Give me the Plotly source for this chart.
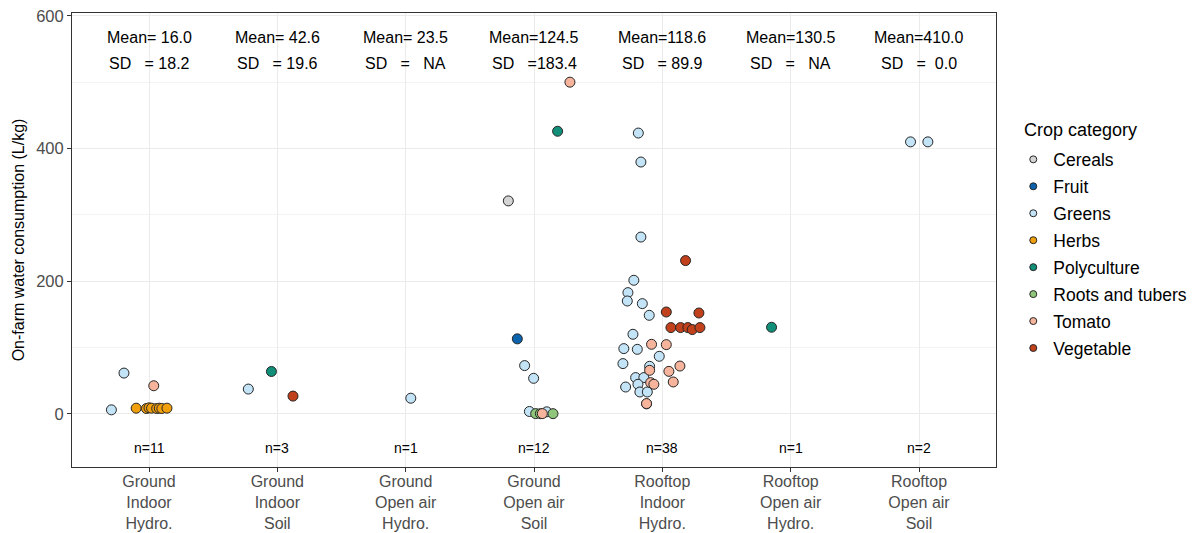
import plotly.graph_objects as go

# ---------------- data ----------------
systems = ["Ground<br>Indoor<br>Hydro.", "Ground<br>Indoor<br>Soil", "Ground<br>Open air<br>Hydro.",
           "Ground<br>Open air<br>Soil", "Rooftop<br>Indoor<br>Hydro.", "Rooftop<br>Open air<br>Hydro.",
           "Rooftop<br>Open air<br>Soil"]
crop_categories = ["Cereals", "Fruit", "Greens", "Herbs", "Polyculture", "Roots and tubers", "Tomato", "Vegetable"]
crop_colors = ["#d4d4d4", "#0b63ad", "#c3e3f6", "#f29f0c", "#128f78", "#8fc67c", "#f6b49c", "#c0411b"]

means = [16.0, 42.6, 23.5, 124.5, 118.6, 130.5, 410.0]
sds = ["18.2", "19.6", "NA", "183.4", "89.9", "NA", "0.0"]
counts = [11, 3, 1, 12, 38, 1, 2]

cereals_sys = [4]
cereals_jit = [-0.20]
cereals_val = [321]

fruit_sys = [4]
fruit_jit = [-0.13]
fruit_val = [113]

greens_sys = [1, 1, 2, 3, 4, 4, 4, 4,
              5, 5, 5, 5, 5, 5, 5, 5, 5, 5, 5, 5, 5, 5, 5, 5, 5, 5, 5, 5, 5,
              7, 7]
greens_jit = [-0.195, -0.293, -0.226, 0.04, -0.073, -0.003, -0.036, 0.099,
              -0.187, -0.167, -0.167, -0.222, -0.268, -0.273, -0.156, -0.102, -0.229, -0.300,
              -0.195, -0.024, -0.307, -0.099, -0.208, -0.144, -0.286, -0.190, -0.175, -0.117, -0.123,
              -0.066, 0.069]
greens_val = [61.4, 6.0, 37.3, 23.5, 72.7, 53.5, 3.5, 3.0,
              423.3, 379.6, 266.5, 201.3, 182.7, 170.1, 166.1, 148.5, 119.9, 98.3,
              97.2, 86.7, 75.7, 71.6, 54.6, 54.6, 40.4, 44.5, 32.9, 32.9, 15.0,
              410.0, 410.0]

herbs_sys = [1, 1, 1, 1, 1, 1, 1, 1]
herbs_jit = [-0.10, -0.02, 0.0, 0.02, 0.06, 0.08, 0.10, 0.14]
herbs_val = [8.5, 8.0, 9.0, 8.5, 8.0, 8.5, 8.0, 8.5]

poly_sys = [2, 4, 6]
poly_jit = [-0.046, 0.184, -0.149]
poly_val = [63.8, 426.0, 130.5]

roots_sys = [4, 4, 4]
roots_jit = [0.013, 0.148, 0.05]
roots_val = [0.3, 0.2, 0.2]

tomato_sys = [1, 4, 4, 5, 5, 5, 5, 5, 5, 5, 5, 5]
tomato_jit = [0.037, 0.28, 0.065, -0.084, 0.031, -0.099, 0.137, 0.051, -0.091, -0.066, 0.085, -0.123]
tomato_val = [42.3, 500.0, 0.3, 104.8, 104.3, 65.6, 72.0, 64.0, 47.0, 44.5, 48.0, 15.4]

veg_sys = [2, 5, 5, 5, 5, 5, 5, 5, 5]
veg_jit = [0.122, 0.181, 0.031, 0.285, 0.067, 0.142, 0.199, 0.233, 0.293]
veg_val = [26.7, 231.0, 153.5, 152.0, 130.0, 130.0, 130.0, 127.0, 130.0]

series = [
    (cereals_sys, cereals_jit, cereals_val),
    (fruit_sys, fruit_jit, fruit_val),
    (greens_sys, greens_jit, greens_val),
    (herbs_sys, herbs_jit, herbs_val),
    (poly_sys, poly_jit, poly_val),
    (roots_sys, roots_jit, roots_val),
    (tomato_sys, tomato_jit, tomato_val),
    (veg_sys, veg_jit, veg_val),
]

FONT = "Liberation Sans, Arial, sans-serif"
NB = "\u00a0"

fig = go.Figure()
for name, color, (s, j, v) in zip(crop_categories, crop_colors, series):
    fig.add_trace(go.Scatter(
        x=[a + b for a, b in zip(s, j)], y=v, mode="markers", name=name,
        legendgroup=name, showlegend=False,
        marker=dict(size=10, color=color, line=dict(color="#262626", width=1)),
    ))
# legend entries (smaller keys as in the reference)
for name, color in zip(crop_categories, crop_colors):
    fig.add_trace(go.Scatter(
        x=[None], y=[None], mode="markers", name=name, legendgroup=name, showlegend=True,
        marker=dict(size=7, color=color, line=dict(color="#262626", width=1)),
    ))

# Mean / SD labels and n labels
for i, (m, sd, n) in enumerate(zip(means, sds, counts)):
    x = i + 1
    mtxt = f"Mean={m:5.1f}".replace(" ", NB)
    sdtxt = f"SD   ={sd:>5}".replace(" ", NB)
    fig.add_annotation(x=x, y=567, xref="x", yref="y", showarrow=False, text=mtxt,
                       font=dict(family=FONT, size=16, color="black"))
    fig.add_annotation(x=x, y=528, xref="x", yref="y", showarrow=False, text=sdtxt,
                       font=dict(family=FONT, size=16, color="black"))
    fig.add_annotation(x=x, y=-51, xref="x", yref="y", showarrow=False,
                       text=f"n={n}", font=dict(family=FONT, size=14, color="black"))

# legend title
fig.add_annotation(x=1.0285, y=0.743, xref="paper", yref="paper", xanchor="left", yanchor="middle",
                   showarrow=False, text="Crop category",
                   font=dict(family=FONT, size=18, color="black"))

fig.update_layout(
    width=1196, height=525,
    margin=dict(l=64, r=208, t=5, b=66),
    paper_bgcolor="white", plot_bgcolor="white",
    font=dict(family=FONT, size=16, color="#4d4d4d"),
    legend=dict(
        font=dict(family=FONT, size=17.5, color="black"),
        x=1.0187, xanchor="left", y=0.717, yanchor="top",
        tracegroupgap=1.2, itemsizing="trace", bgcolor="rgba(0,0,0,0)",
    ),
    xaxis=dict(
        range=[0.4, 7.6], tickmode="array", tickvals=list(range(1, 8)), ticktext=systems,
        showgrid=True, gridcolor="#ebebeb", gridwidth=1, zeroline=False,
        showline=True, linecolor="#333333", linewidth=1, mirror=True,
        ticks="outside", ticklen=4, tickcolor="#333333", automargin=False,
        ticklabelstandoff=-4, ticklabeloverflow="allow",
        tickfont=dict(family=FONT, size=16, color="#4d4d4d"),
    ),
    yaxis=dict(
        range=[-80.2, 604.3], tick0=0, dtick=200,
        showgrid=True, gridcolor="#ebebeb", gridwidth=1, zeroline=False,
        minor=dict(dtick=100, tick0=0, showgrid=True, gridcolor="#f3f3f3", gridwidth=1),
        showline=True, linecolor="#333333", linewidth=1, mirror=True,
        ticks="outside", ticklen=4, tickcolor="#333333", automargin=False,
        ticklabeloverflow="allow",
        tickfont=dict(family=FONT, size=16.5, color="#4d4d4d"),
        title=dict(text="On-farm water consumption (L/kg)", standoff=7,
                   font=dict(family=FONT, size=16, color="black")),
    ),
)

fig.write_html("out.html")
